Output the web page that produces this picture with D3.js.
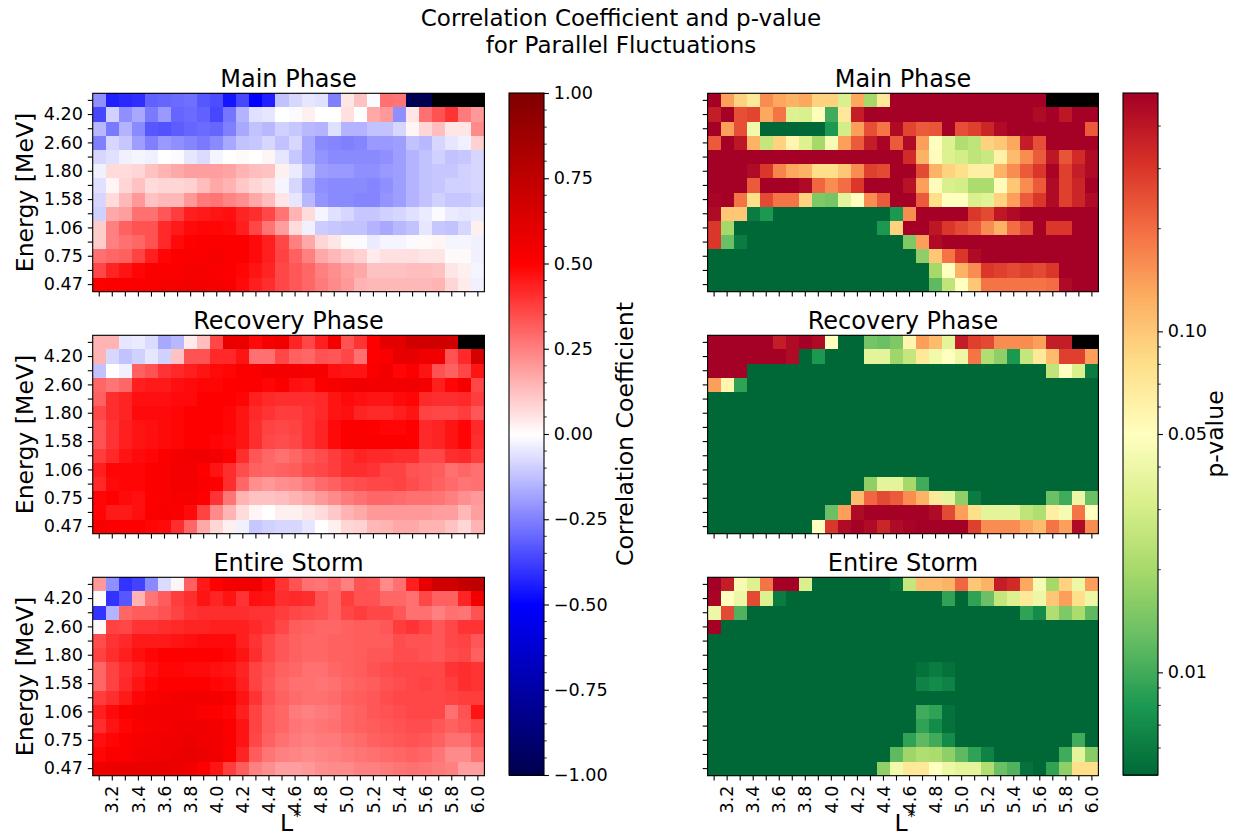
<!DOCTYPE html>
<html>
<head>
<meta charset="utf-8">
<script src="https://cdn.jsdelivr.net/npm/d3@7"></script>
<style>
  body { margin: 0; background: #fff; }
  svg { display: block; }
  text { font-family: "DejaVu Sans", sans-serif; fill: #000; }
</style>
</head>
<body>
<svg id="fig" width="1246" height="838"></svg>
<script>
// L* bins (columns)
const lStar = [3.1, 3.2, 3.3, 3.4, 3.5, 3.6, 3.7, 3.8, 3.9, 4.0,
               4.1, 4.2, 4.3, 4.4, 4.5, 4.6, 4.7, 4.8, 4.9, 5.0,
               5.1, 5.2, 5.3, 5.4, 5.5, 5.6, 5.7, 5.8, 5.9, 6.0];
const lTickLabels = ["3.2", "3.4", "3.6", "3.8", "4.0", "4.2", "4.4", "4.6",
                     "4.8", "5.0", "5.2", "5.4", "5.6", "5.8", "6.0"];
// energy channel labels, rows listed from the top of each panel down
const energyLabels = ["", "4.20", "", "2.60", "", "1.80", "", "1.58",
                      "", "1.06", "", "0.75", "", "0.47"];
const corrTicks = [1, 0.75, 0.5, 0.25, 0, -0.25, -0.5, -0.75, -1];
const pTicks = [0.1, 0.05, 0.01];
const pMinorTicks = [0.4, 0.3, 0.2, 0.09, 0.08, 0.07, 0.06, 0.04, 0.03, 0.02,
                     0.009, 0.008, 0.007, 0.006];
const panelTitles = ["Main Phase", "Recovery Phase", "Entire Storm"];

// Correlation coefficients (rows from highest energy channel down; null = no data)
const mainR = [
  [-0.22,-0.44,-0.42,-0.41,-0.31,-0.30,-0.29,-0.28,-0.33,-0.35,-0.46,-0.36,-0.50,-0.44,-0.12,-0.08,-0.05,-0.06,-0.25,0.05,0.12,-0.01,0.28,0.27,-0.98,-0.98,null,null,null,null],
  [-0.36,-0.09,-0.22,-0.17,-0.26,-0.20,-0.30,-0.29,-0.31,-0.36,-0.27,-0.15,-0.06,-0.05,0.00,-0.01,0.03,0.00,0.00,0.06,0.00,0.17,0.20,-0.22,0.05,0.28,0.34,0.40,0.26,0.20],
  [-0.14,-0.26,-0.15,-0.23,-0.33,-0.34,-0.32,-0.30,-0.29,-0.30,-0.25,-0.17,-0.12,-0.14,-0.09,-0.11,-0.14,-0.15,-0.06,-0.15,-0.15,-0.12,-0.12,-0.08,0.02,0.08,0.13,0.05,0.05,0.23],
  [-0.25,-0.08,-0.11,-0.19,-0.25,-0.20,-0.22,-0.24,-0.26,-0.23,-0.17,-0.12,-0.11,-0.08,-0.12,-0.08,-0.17,-0.23,-0.24,-0.25,-0.24,-0.20,-0.20,-0.19,-0.12,-0.14,-0.08,-0.05,-0.03,0.09],
  [-0.08,-0.06,-0.03,-0.02,-0.03,0.00,-0.01,-0.05,-0.07,-0.02,0.00,0.01,0.00,0.02,-0.05,-0.11,-0.17,-0.21,-0.23,-0.23,-0.23,-0.23,-0.22,-0.19,-0.15,-0.12,-0.09,-0.12,-0.11,-0.08],
  [-0.03,0.07,0.07,0.08,0.12,0.15,0.17,0.19,0.19,0.19,0.18,0.15,0.13,0.12,0.03,-0.04,-0.12,-0.19,-0.20,-0.20,-0.22,-0.22,-0.20,-0.19,-0.15,-0.12,-0.11,-0.11,-0.09,-0.08],
  [-0.06,0.02,0.08,0.12,0.07,0.08,0.08,0.09,0.13,0.17,0.15,0.11,0.08,0.06,-0.02,-0.08,-0.17,-0.22,-0.23,-0.23,-0.23,-0.24,-0.22,-0.19,-0.15,-0.12,-0.11,-0.09,-0.09,-0.08],
  [-0.08,0.07,0.14,0.20,0.12,0.14,0.14,0.20,0.26,0.27,0.24,0.22,0.17,0.13,0.05,-0.05,-0.14,-0.21,-0.23,-0.23,-0.24,-0.24,-0.21,-0.19,-0.15,-0.12,-0.09,-0.11,-0.11,-0.09],
  [-0.09,0.17,0.19,0.28,0.28,0.33,0.38,0.44,0.45,0.46,0.47,0.43,0.41,0.36,0.27,0.15,0.07,-0.02,-0.06,-0.08,-0.11,-0.11,-0.09,-0.08,-0.06,-0.04,-0.01,-0.04,-0.05,-0.04],
  [0.10,0.25,0.31,0.34,0.34,0.42,0.45,0.48,0.49,0.49,0.48,0.44,0.36,0.27,0.19,0.07,-0.03,-0.10,-0.11,-0.12,-0.12,-0.15,-0.17,-0.14,-0.12,-0.05,-0.11,-0.12,-0.08,0.03],
  [0.10,0.25,0.28,0.30,0.34,0.42,0.48,0.50,0.51,0.51,0.51,0.51,0.48,0.44,0.36,0.25,0.17,0.08,0.05,0.01,-0.01,-0.04,-0.02,-0.02,-0.01,0.01,0.02,-0.02,-0.02,-0.03],
  [0.28,0.30,0.31,0.37,0.44,0.49,0.51,0.52,0.52,0.53,0.52,0.51,0.48,0.44,0.37,0.31,0.25,0.17,0.14,0.11,0.09,0.04,0.06,0.06,0.06,0.05,0.05,0.01,0.01,-0.03],
  [0.36,0.43,0.46,0.49,0.51,0.51,0.52,0.53,0.53,0.52,0.51,0.49,0.46,0.43,0.36,0.33,0.30,0.25,0.22,0.19,0.17,0.12,0.12,0.12,0.13,0.13,0.12,0.05,0.03,-0.02],
  [0.50,0.51,0.51,0.52,0.52,0.53,0.53,0.54,0.54,0.53,0.52,0.48,0.44,0.41,0.36,0.33,0.30,0.26,0.23,0.20,0.15,0.14,0.14,0.14,0.14,0.14,0.15,0.08,0.04,-0.03]
];
const recoveryR = [
  [0.15,0.15,-0.05,-0.04,-0.07,-0.17,-0.14,0.04,0.13,0.36,0.58,0.58,0.48,0.53,0.55,0.43,0.36,0.44,0.54,0.34,0.40,0.50,0.61,0.61,0.68,0.68,0.69,0.68,null,null],
  [0.15,-0.08,-0.12,-0.09,-0.05,-0.09,0.12,0.34,0.34,0.42,0.42,0.46,0.28,0.28,0.36,0.31,0.30,0.34,0.33,0.36,0.28,0.50,0.52,0.59,0.59,0.55,0.56,0.34,0.42,0.66],
  [-0.12,0.00,-0.03,0.31,0.34,0.40,0.42,0.44,0.46,0.48,0.49,0.51,0.52,0.54,0.54,0.54,0.53,0.53,0.47,0.46,0.46,0.51,0.55,0.49,0.52,0.46,0.34,0.31,0.36,0.46],
  [0.30,0.27,0.30,0.44,0.45,0.45,0.47,0.48,0.49,0.49,0.50,0.51,0.52,0.49,0.51,0.47,0.46,0.51,0.53,0.54,0.55,0.55,0.55,0.55,0.56,0.54,0.44,0.49,0.53,0.36],
  [0.31,0.41,0.43,0.47,0.47,0.47,0.48,0.48,0.50,0.50,0.50,0.49,0.44,0.42,0.41,0.41,0.41,0.42,0.46,0.48,0.47,0.46,0.46,0.48,0.49,0.42,0.41,0.41,0.42,0.38],
  [0.36,0.41,0.43,0.48,0.48,0.48,0.49,0.50,0.50,0.50,0.49,0.46,0.42,0.40,0.38,0.38,0.40,0.42,0.46,0.47,0.43,0.42,0.42,0.44,0.46,0.37,0.36,0.36,0.38,0.33],
  [0.34,0.40,0.44,0.46,0.47,0.48,0.49,0.50,0.50,0.50,0.49,0.46,0.41,0.37,0.36,0.37,0.40,0.43,0.48,0.51,0.51,0.50,0.49,0.49,0.50,0.42,0.43,0.46,0.49,0.42],
  [0.34,0.40,0.44,0.46,0.47,0.48,0.49,0.50,0.50,0.49,0.48,0.46,0.41,0.36,0.35,0.36,0.40,0.43,0.48,0.51,0.52,0.51,0.51,0.51,0.50,0.42,0.43,0.46,0.49,0.41],
  [0.38,0.42,0.46,0.48,0.49,0.51,0.54,0.55,0.56,0.54,0.50,0.41,0.33,0.30,0.28,0.30,0.33,0.35,0.38,0.41,0.43,0.42,0.42,0.41,0.41,0.36,0.36,0.41,0.42,0.38],
  [0.44,0.49,0.49,0.49,0.51,0.52,0.54,0.54,0.50,0.46,0.41,0.35,0.31,0.30,0.31,0.32,0.35,0.36,0.38,0.41,0.41,0.40,0.37,0.37,0.34,0.33,0.32,0.28,0.30,0.28],
  [0.42,0.48,0.49,0.49,0.51,0.52,0.54,0.54,0.52,0.50,0.41,0.30,0.22,0.20,0.22,0.23,0.26,0.29,0.31,0.34,0.35,0.36,0.36,0.37,0.35,0.33,0.31,0.29,0.27,0.28],
  [0.49,0.50,0.48,0.47,0.50,0.52,0.53,0.53,0.50,0.40,0.27,0.15,0.12,0.12,0.13,0.15,0.17,0.20,0.23,0.26,0.28,0.30,0.30,0.29,0.28,0.28,0.27,0.25,0.22,0.20],
  [0.49,0.45,0.45,0.47,0.51,0.53,0.52,0.48,0.37,0.23,0.15,0.07,0.02,0.00,0.03,0.03,0.05,0.07,0.11,0.15,0.17,0.20,0.20,0.20,0.20,0.20,0.19,0.19,0.14,0.19],
  [0.53,0.52,0.50,0.50,0.49,0.48,0.41,0.30,0.17,0.08,0.03,-0.03,-0.11,-0.09,-0.08,-0.08,-0.05,0.00,0.03,0.08,0.09,0.14,0.15,0.17,0.17,0.15,0.15,0.12,0.08,0.15]
];
const stormR = [
  [0.20,-0.22,-0.40,-0.37,-0.23,-0.07,0.02,0.31,0.45,0.50,0.54,0.55,0.55,0.48,0.40,0.34,0.28,0.27,0.30,0.25,0.34,0.33,0.23,0.28,0.44,0.59,0.68,0.68,0.74,0.76],
  [-0.01,-0.40,-0.33,0.15,0.27,0.32,0.38,0.41,0.46,0.43,0.46,0.40,0.47,0.46,0.41,0.42,0.41,0.34,0.31,0.38,0.34,0.34,0.30,0.30,0.28,0.36,0.31,0.31,0.43,0.55],
  [-0.40,-0.15,0.30,0.32,0.32,0.34,0.37,0.40,0.41,0.41,0.41,0.41,0.40,0.40,0.38,0.36,0.35,0.34,0.31,0.36,0.38,0.36,0.36,0.33,0.28,0.28,0.25,0.28,0.27,0.34],
  [0.01,0.37,0.36,0.40,0.40,0.41,0.42,0.43,0.43,0.44,0.44,0.44,0.42,0.40,0.36,0.32,0.31,0.30,0.30,0.31,0.32,0.32,0.33,0.38,0.40,0.37,0.33,0.36,0.40,0.40],
  [0.35,0.40,0.42,0.45,0.45,0.45,0.46,0.47,0.48,0.48,0.48,0.44,0.40,0.36,0.33,0.31,0.30,0.30,0.31,0.31,0.32,0.32,0.32,0.35,0.34,0.34,0.33,0.36,0.37,0.33],
  [0.37,0.41,0.44,0.47,0.49,0.50,0.50,0.50,0.50,0.50,0.49,0.46,0.41,0.36,0.33,0.31,0.30,0.30,0.31,0.31,0.32,0.33,0.33,0.35,0.35,0.34,0.33,0.35,0.36,0.31],
  [0.30,0.37,0.41,0.44,0.47,0.49,0.49,0.48,0.48,0.47,0.46,0.43,0.37,0.34,0.31,0.30,0.28,0.28,0.30,0.31,0.32,0.34,0.35,0.36,0.36,0.36,0.36,0.40,0.41,0.40],
  [0.30,0.37,0.42,0.46,0.49,0.50,0.50,0.50,0.50,0.49,0.48,0.44,0.37,0.33,0.30,0.28,0.28,0.27,0.28,0.30,0.31,0.32,0.34,0.35,0.36,0.37,0.36,0.38,0.41,0.40],
  [0.38,0.41,0.45,0.49,0.51,0.53,0.54,0.55,0.55,0.54,0.52,0.46,0.40,0.34,0.31,0.29,0.28,0.28,0.29,0.31,0.32,0.33,0.35,0.36,0.36,0.36,0.36,0.37,0.38,0.38],
  [0.44,0.48,0.51,0.53,0.54,0.55,0.55,0.54,0.52,0.50,0.49,0.44,0.37,0.32,0.30,0.26,0.25,0.26,0.27,0.30,0.31,0.33,0.34,0.35,0.36,0.36,0.36,0.28,0.34,0.46],
  [0.41,0.46,0.49,0.51,0.53,0.54,0.55,0.55,0.55,0.54,0.51,0.46,0.37,0.32,0.30,0.27,0.26,0.27,0.28,0.30,0.31,0.32,0.33,0.34,0.35,0.35,0.33,0.31,0.33,0.36],
  [0.47,0.49,0.51,0.53,0.54,0.55,0.56,0.57,0.56,0.55,0.52,0.46,0.36,0.31,0.28,0.26,0.25,0.26,0.26,0.28,0.29,0.31,0.32,0.33,0.34,0.33,0.31,0.28,0.28,0.33],
  [0.49,0.51,0.52,0.54,0.55,0.56,0.57,0.58,0.57,0.55,0.51,0.43,0.32,0.27,0.25,0.24,0.23,0.24,0.25,0.26,0.27,0.28,0.29,0.30,0.31,0.30,0.27,0.23,0.23,0.28],
  [0.56,0.57,0.58,0.58,0.58,0.58,0.57,0.55,0.50,0.46,0.38,0.32,0.25,0.22,0.19,0.19,0.20,0.22,0.23,0.23,0.25,0.25,0.26,0.27,0.28,0.27,0.26,0.25,0.19,0.19]
];

// p-values (same layout as the correlation arrays)
const mainP = [
  [0.5,0.14,0.09,0.07,0.16,0.13,0.12,0.13,0.09,0.09,0.032,0.13,0.02,0.07,0.5,0.5,0.5,0.5,0.5,0.5,0.5,0.5,0.5,0.5,0.5,0.5,null,null,null,null],
  [0.38,0.5,0.25,0.27,0.13,0.19,0.033,0.032,0.048,0.01,0.07,0.38,0.5,0.5,0.5,0.5,0.5,0.5,0.5,0.5,0.5,0.5,0.5,0.5,0.5,0.45,0.5,0.4,0.5,0.5],
  [0.5,0.14,0.25,0.042,0.001,0.001,0.001,0.001,0.001,0.008,0.03,0.14,0.25,0.19,0.45,0.27,0.23,0.24,0.5,0.25,0.28,0.35,0.45,0.5,0.5,0.5,0.5,0.5,0.5,0.23],
  [0.23,0.5,0.4,0.12,0.026,0.09,0.058,0.033,0.02,0.045,0.14,0.23,0.38,0.48,0.23,0.45,0.14,0.05,0.033,0.022,0.025,0.09,0.1,0.13,0.38,0.25,0.5,0.5,0.5,0.5],
  [0.5,0.5,0.5,0.5,0.5,0.5,0.5,0.5,0.5,0.5,0.5,0.5,0.5,0.5,0.5,0.33,0.12,0.052,0.033,0.03,0.025,0.027,0.062,0.11,0.16,0.23,0.4,0.24,0.33,0.45],
  [0.5,0.5,0.5,0.45,0.3,0.17,0.13,0.12,0.08,0.08,0.1,0.16,0.28,0.26,0.5,0.5,0.26,0.12,0.09,0.08,0.063,0.063,0.12,0.16,0.23,0.3,0.48,0.28,0.38,0.45],
  [0.5,0.5,0.5,0.23,0.5,0.5,0.5,0.45,0.21,0.16,0.2,0.3,0.5,0.5,0.5,0.42,0.14,0.052,0.032,0.03,0.021,0.021,0.052,0.1,0.16,0.23,0.45,0.28,0.35,0.5],
  [0.48,0.5,0.19,0.08,0.26,0.19,0.19,0.09,0.015,0.014,0.036,0.05,0.16,0.23,0.5,0.5,0.23,0.08,0.05,0.05,0.032,0.035,0.09,0.14,0.23,0.3,0.45,0.28,0.35,0.45],
  [0.45,0.1,0.1,0.006,0.008,0.001,0.001,0.001,0.001,0.001,0.001,0.001,0.001,0.001,0.008,0.16,0.5,0.5,0.5,0.5,0.3,0.26,0.4,0.45,0.5,0.5,0.5,0.5,0.5,0.5],
  [0.3,0.02,0.001,0.001,0.001,0.001,0.001,0.001,0.001,0.001,0.001,0.001,0.001,0.008,0.09,0.5,0.5,0.4,0.3,0.26,0.23,0.16,0.12,0.2,0.26,0.5,0.3,0.3,0.5,0.5],
  [0.3,0.013,0.006,0.001,0.001,0.001,0.001,0.001,0.001,0.001,0.001,0.001,0.001,0.001,0.001,0.015,0.14,0.45,0.5,0.5,0.5,0.5,0.5,0.5,0.5,0.5,0.5,0.5,0.5,0.5],
  [0.001,0.001,0.001,0.001,0.001,0.001,0.001,0.001,0.001,0.001,0.001,0.001,0.001,0.001,0.001,0.001,0.017,0.1,0.19,0.3,0.45,0.5,0.5,0.5,0.5,0.5,0.5,0.5,0.5,0.5],
  [0.001,0.001,0.001,0.001,0.001,0.001,0.001,0.001,0.001,0.001,0.001,0.001,0.001,0.001,0.001,0.001,0.001,0.02,0.05,0.12,0.16,0.3,0.28,0.26,0.28,0.26,0.3,0.5,0.5,0.5],
  [0.001,0.001,0.001,0.001,0.001,0.001,0.001,0.001,0.001,0.001,0.001,0.001,0.001,0.001,0.001,0.001,0.001,0.012,0.025,0.05,0.1,0.19,0.19,0.19,0.19,0.19,0.2,0.45,0.5,0.5]
];
const recoveryP = [
  [0.5,0.5,0.5,0.5,0.5,0.38,0.45,0.5,0.45,0.05,0.001,0.001,0.014,0.013,0.015,0.058,0.14,0.11,0.036,0.38,0.28,0.26,0.16,0.16,0.16,0.14,0.38,0.38,null,null],
  [0.5,0.5,0.5,0.5,0.5,0.5,0.45,0.001,0.008,0.001,0.001,0.001,0.036,0.036,0.019,0.026,0.07,0.042,0.05,0.04,0.19,0.022,0.017,0.008,0.026,0.07,0.11,0.28,0.28,0.14],
  [0.5,0.5,0.5,0.001,0.001,0.001,0.001,0.001,0.001,0.001,0.001,0.001,0.001,0.001,0.001,0.001,0.001,0.001,0.001,0.001,0.001,0.001,0.001,0.001,0.001,0.001,0.025,0.05,0.032,0.006],
  [0.14,0.058,0.009,0.001,0.001,0.001,0.001,0.001,0.001,0.001,0.001,0.001,0.001,0.001,0.001,0.001,0.001,0.001,0.001,0.001,0.001,0.001,0.001,0.001,0.001,0.001,0.001,0.001,0.001,0.001],
  [0.001,0.001,0.001,0.001,0.001,0.001,0.001,0.001,0.001,0.001,0.001,0.001,0.001,0.001,0.001,0.001,0.001,0.001,0.001,0.001,0.001,0.001,0.001,0.001,0.001,0.001,0.001,0.001,0.001,0.001],
  [0.001,0.001,0.001,0.001,0.001,0.001,0.001,0.001,0.001,0.001,0.001,0.001,0.001,0.001,0.001,0.001,0.001,0.001,0.001,0.001,0.001,0.001,0.001,0.001,0.001,0.001,0.001,0.001,0.001,0.001],
  [0.001,0.001,0.001,0.001,0.001,0.001,0.001,0.001,0.001,0.001,0.001,0.001,0.001,0.001,0.001,0.001,0.001,0.001,0.001,0.001,0.001,0.001,0.001,0.001,0.001,0.001,0.001,0.001,0.001,0.001],
  [0.001,0.001,0.001,0.001,0.001,0.001,0.001,0.001,0.001,0.001,0.001,0.001,0.001,0.001,0.001,0.001,0.001,0.001,0.001,0.001,0.001,0.001,0.001,0.001,0.001,0.001,0.001,0.001,0.001,0.001],
  [0.001,0.001,0.001,0.001,0.001,0.001,0.001,0.001,0.001,0.001,0.001,0.001,0.001,0.001,0.001,0.001,0.001,0.001,0.001,0.001,0.001,0.001,0.001,0.001,0.001,0.001,0.001,0.001,0.001,0.001],
  [0.001,0.001,0.001,0.001,0.001,0.001,0.001,0.001,0.001,0.001,0.001,0.001,0.001,0.001,0.001,0.001,0.001,0.001,0.001,0.001,0.001,0.001,0.001,0.001,0.001,0.001,0.001,0.001,0.001,0.001],
  [0.001,0.001,0.001,0.001,0.001,0.001,0.001,0.001,0.001,0.001,0.001,0.001,0.017,0.036,0.036,0.02,0.01,0.001,0.001,0.001,0.001,0.001,0.001,0.001,0.001,0.001,0.001,0.001,0.001,0.001],
  [0.001,0.001,0.001,0.001,0.001,0.001,0.001,0.001,0.001,0.001,0.001,0.11,0.21,0.26,0.23,0.16,0.12,0.07,0.036,0.017,0.006,0.001,0.001,0.001,0.001,0.001,0.013,0.01,0.04,0.013],
  [0.001,0.001,0.001,0.001,0.001,0.001,0.001,0.001,0.001,0.013,0.14,0.45,0.5,0.5,0.5,0.5,0.5,0.45,0.26,0.14,0.08,0.036,0.036,0.036,0.025,0.022,0.063,0.045,0.19,0.05],
  [0.001,0.001,0.001,0.001,0.001,0.001,0.001,0.001,0.05,0.3,0.45,0.5,0.45,0.35,0.45,0.48,0.5,0.5,0.5,0.5,0.28,0.16,0.16,0.16,0.13,0.11,0.19,0.14,0.45,0.16]
];
const stormP = [
  [0.5,0.38,0.045,0.033,0.19,0.5,0.5,0.032,0.001,0.001,0.001,0.001,0.001,0.001,0.0055,0.026,0.11,0.11,0.12,0.21,0.1,0.12,0.38,0.33,0.13,0.045,0.02,0.09,0.04,0.14],
  [0.48,0.05,0.04,0.26,0.033,0.006,0.001,0.001,0.001,0.001,0.001,0.001,0.001,0.001,0.001,0.001,0.001,0.001,0.009,0.001,0.009,0.013,0.026,0.033,0.07,0.04,0.1,0.14,0.08,0.04],
  [0.04,0.26,0.011,0.001,0.001,0.001,0.001,0.001,0.001,0.001,0.001,0.001,0.001,0.001,0.001,0.001,0.001,0.001,0.001,0.001,0.001,0.001,0.001,0.001,0.009,0.007,0.022,0.015,0.021,0.012],
  [0.5,0.001,0.001,0.001,0.001,0.001,0.001,0.001,0.001,0.001,0.001,0.001,0.001,0.001,0.001,0.001,0.001,0.001,0.001,0.001,0.001,0.001,0.001,0.001,0.001,0.001,0.001,0.001,0.001,0.001],
  [0.001,0.001,0.001,0.001,0.001,0.001,0.001,0.001,0.001,0.001,0.001,0.001,0.001,0.001,0.001,0.001,0.001,0.001,0.001,0.001,0.001,0.001,0.001,0.001,0.001,0.001,0.001,0.001,0.001,0.001],
  [0.001,0.001,0.001,0.001,0.001,0.001,0.001,0.001,0.001,0.001,0.001,0.001,0.001,0.001,0.001,0.001,0.001,0.001,0.001,0.001,0.001,0.001,0.001,0.001,0.001,0.001,0.001,0.001,0.001,0.001],
  [0.001,0.001,0.001,0.001,0.001,0.001,0.001,0.001,0.001,0.001,0.001,0.001,0.001,0.001,0.001,0.001,0.0055,0.006,0.0055,0.001,0.001,0.001,0.001,0.001,0.001,0.001,0.001,0.001,0.001,0.001],
  [0.001,0.001,0.001,0.001,0.001,0.001,0.001,0.001,0.001,0.001,0.001,0.001,0.001,0.001,0.001,0.001,0.0065,0.007,0.0065,0.001,0.001,0.001,0.001,0.001,0.001,0.001,0.001,0.001,0.001,0.001],
  [0.001,0.001,0.001,0.001,0.001,0.001,0.001,0.001,0.001,0.001,0.001,0.001,0.001,0.001,0.001,0.001,0.001,0.001,0.001,0.001,0.001,0.001,0.001,0.001,0.001,0.001,0.001,0.001,0.001,0.001],
  [0.001,0.001,0.001,0.001,0.001,0.001,0.001,0.001,0.001,0.001,0.001,0.001,0.001,0.001,0.001,0.001,0.01,0.009,0.0055,0.001,0.001,0.001,0.001,0.001,0.001,0.001,0.001,0.001,0.001,0.001],
  [0.001,0.001,0.001,0.001,0.001,0.001,0.001,0.001,0.001,0.001,0.001,0.001,0.001,0.001,0.001,0.001,0.009,0.007,0.0055,0.001,0.001,0.001,0.001,0.001,0.001,0.001,0.001,0.001,0.001,0.001],
  [0.001,0.001,0.001,0.001,0.001,0.001,0.001,0.001,0.001,0.001,0.001,0.001,0.001,0.001,0.001,0.009,0.012,0.01,0.007,0.001,0.001,0.001,0.001,0.001,0.001,0.001,0.001,0.001,0.01,0.001],
  [0.001,0.001,0.001,0.001,0.001,0.001,0.001,0.001,0.001,0.001,0.001,0.001,0.001,0.001,0.012,0.019,0.022,0.021,0.017,0.012,0.009,0.0065,0.001,0.001,0.001,0.001,0.001,0.01,0.036,0.016],
  [0.001,0.001,0.001,0.001,0.001,0.001,0.001,0.001,0.001,0.001,0.001,0.001,0.001,0.017,0.042,0.07,0.07,0.05,0.04,0.036,0.036,0.022,0.013,0.011,0.0055,0.001,0.009,0.017,0.08,0.08]
];

const corrData = [mainR, recoveryR, stormR];
const pData = [mainP, recoveryP, stormP];

// ---- colour maps ----
// diverging blue-white-red map for the correlation coefficient
const corrColor = d3.scaleLinear()
  .domain([-1, -0.5, 0, 0.5, 1])
  .range(["#00004c", "#0000ff", "#ffffff", "#ff0000", "#800000"])
  .clamp(true);
// red-yellow-green map on a log scale for the p-value (green = small p)
const rdYlGn = ["#a50026", "#d73027", "#f46d43", "#fdae61", "#fee08b", "#ffffbf",
                "#d9ef8b", "#a6d96a", "#66bd63", "#1a9850", "#006837"];
const pNorm = d3.scaleLog().domain([0.5, 0.005]).range([0, 1]).clamp(true);
const pRamp = d3.scaleLinear().domain(d3.range(11).map(i => i / 10)).range(rdYlGn);
const pColor = p => pRamp(pNorm(p));
const nanColor = "#000000";

// ---- layout ----
const svg = d3.select("#fig");
const W = 1246, H = 838;
svg.append("rect").attr("width", W).attr("height", H).attr("fill", "#fff");

const colX = [[92.7, 484.4], [707.6, 1098.4]];
const rowY = [[93.3, 291.7], [335.3, 533.7], [577.3, 775.7]];
const tickLen = 4.9, tickPad = 4.9, minorLen = 2.8;
const tickFont = 17.6, labelFont = 23.6, titleFont = 24, supFont = 23;

svg.append("text").attr("x", 621).attr("y", 25.5).attr("text-anchor", "middle")
  .style("font-size", supFont + "px").text("Correlation Coefficient and p-value");
svg.append("text").attr("x", 621).attr("y", 52.5).attr("text-anchor", "middle")
  .style("font-size", supFont + "px").text("for Parallel Fluctuations");

function drawPanel(data, colorFn, xr, yr, title, showYLabels, showXLabels) {
  const x = d3.scaleBand().domain(d3.range(lStar.length)).range(xr).padding(0);
  const y = d3.scaleBand().domain(d3.range(energyLabels.length)).range(yr).padding(0);
  const g = svg.append("g");

  const cells = g.append("g").attr("shape-rendering", "crispEdges");
  data.forEach((row, r) => {
    cells.selectAll(null).data(row).enter().append("rect")
      .attr("x", (d, c) => x(c))
      .attr("y", y(r))
      .attr("width", x.bandwidth() + 0.4)
      .attr("height", y.bandwidth() + 0.4)
      .attr("fill", d => d === null ? nanColor : colorFn(d));
  });

  // y axis: a tick per energy channel, labels on every other one
  const yAxis = d3.axisLeft(y).tickSize(tickLen).tickPadding(tickPad)
    .tickFormat(i => showYLabels ? energyLabels[i] : "");
  const ya = g.append("g").attr("transform", `translate(${xr[0]},0)`).call(yAxis);
  // x axis: a tick per L* bin
  const xAxis = d3.axisBottom(x).tickSize(tickLen).tickPadding(tickPad)
    .tickFormat(i => {
      const s = d3.format(".1f")(lStar[i]);
      return showXLabels && lTickLabels.includes(s) ? s : "";
    });
  const xa = g.append("g").attr("transform", `translate(0,${yr[1]})`).call(xAxis);

  [ya, xa].forEach(a => {
    a.select(".domain").remove();
    a.selectAll(".tick line").attr("stroke", "#000").attr("stroke-width", 1.1);
    a.selectAll(".tick text").style("font-size", tickFont + "px")
      .style("font-family", '"DejaVu Sans", sans-serif').attr("fill", "#000");
  });
  xa.selectAll(".tick text")
    .attr("transform", `rotate(-90)`)
    .attr("x", -(tickLen + tickPad)).attr("y", 0).attr("dy", "0.35em")
    .attr("text-anchor", "end");

  g.append("rect").attr("x", xr[0]).attr("y", yr[0])
    .attr("width", xr[1] - xr[0]).attr("height", yr[1] - yr[0])
    .attr("fill", "none").attr("stroke", "#000").attr("stroke-width", 1.1);

  g.append("text").attr("x", (xr[0] + xr[1]) / 2).attr("y", yr[0] - 6)
    .attr("text-anchor", "middle").style("font-size", titleFont + "px").text(title);

  if (showYLabels) {
    g.append("text")
      .attr("transform", `translate(33,${(yr[0] + yr[1]) / 2}) rotate(-90)`)
      .attr("text-anchor", "middle").style("font-size", labelFont + "px")
      .text("Energy [MeV]");
  }
  if (showXLabels) {
    const t = g.append("text").attr("x", (xr[0] + xr[1]) / 2 + 2).attr("y", 831)
      .attr("text-anchor", "middle").style("font-size", labelFont + "px");
    t.append("tspan").text("L");
    t.append("tspan").attr("dy", -9).style("font-size", "16px").text("*");
  }
}

for (let i = 0; i < 3; i++) {
  drawPanel(corrData[i], corrColor, colX[0], rowY[i], panelTitles[i], true, i === 2);
  drawPanel(pData[i], pColor, colX[1], rowY[i], panelTitles[i], false, i === 2);
}

// ---- colour bars ----
const cbY = [93, 775];
function drawColorbar(x0, x1, scale, colorFn, major, minor, fmt, label, labelX) {
  const g = svg.append("g");
  const n = 340;
  const step = (cbY[1] - cbY[0]) / n;
  const strips = d3.range(n).map(i => scale.invert(cbY[1] - (i + 0.5) * step));
  g.append("g").attr("shape-rendering", "crispEdges").selectAll("rect")
    .data(strips).enter().append("rect")
    .attr("x", x0).attr("width", x1 - x0)
    .attr("y", (d, i) => cbY[1] - (i + 1) * step)
    .attr("height", step + 0.6)
    .attr("fill", d => colorFn(d));
  g.append("rect").attr("x", x0).attr("y", cbY[0]).attr("width", x1 - x0)
    .attr("height", cbY[1] - cbY[0]).attr("fill", "none")
    .attr("stroke", "#000").attr("stroke-width", 1.1);

  const ax = g.append("g").attr("transform", `translate(${x1},0)`)
    .call(d3.axisRight(scale).tickValues(major).tickFormat(fmt)
      .tickSize(tickLen).tickPadding(tickPad));
  ax.select(".domain").remove();
  ax.selectAll(".tick line").attr("stroke", "#000").attr("stroke-width", 1.1);
  ax.selectAll(".tick text").style("font-size", tickFont + "px")
    .style("font-family", '"DejaVu Sans", sans-serif').attr("fill", "#000");

  g.append("g").selectAll("line").data(minor).enter().append("line")
    .attr("x1", x1).attr("x2", x1 + minorLen)
    .attr("y1", d => scale(d)).attr("y2", d => scale(d))
    .attr("stroke", "#000").attr("stroke-width", 0.8);

  g.append("text")
    .attr("transform", `translate(${labelX},${(cbY[0] + cbY[1]) / 2}) rotate(-90)`)
    .attr("text-anchor", "middle").style("font-size", labelFont + "px").text(label);
}

const corrScale = d3.scaleLinear().domain([-1, 1]).range([cbY[1], cbY[0]]);
const corrMinor = d3.range(-20, 21).map(k => k / 20).filter(v => !corrTicks.some(t => Math.abs(t - v) < 1e-9));
drawColorbar(509, 544, corrScale, corrColor, corrTicks, corrMinor, d3.format(".2f"),
  "Correlation Coefficient", 633);

const pScale = d3.scaleLog().domain([0.005, 0.5]).range([cbY[1], cbY[0]]);
drawColorbar(1123, 1158, pScale, pColor, pTicks, pMinorTicks, d3.format(".2f"),
  "p-value", 1223);
</script>
</body>
</html>
